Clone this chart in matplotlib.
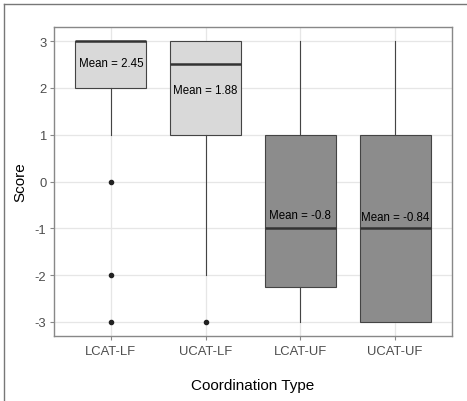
import matplotlib
matplotlib.use("Agg")
import matplotlib.pyplot as plt
from matplotlib.lines import Line2D

plt.rcParams['font.family'] = ['Liberation Sans', 'DejaVu Sans']
plt.rcParams['axes.unicode_minus'] = False

categories = ["LCAT-LF", "UCAT-LF", "LCAT-UF", "UCAT-UF"]
q1 = [2, 1, -2.25, -3]
med = [3, 2.5, -1, -1]
q3 = [3, 3, 1, 1]
whislo = [1, -2, -3, -3]
whishi = [3, 3, 3, 3]
fliers = [[0, -2, -3], [-3], [], []]
means = [2.45, 1.88, -0.8, -0.84]
fills = ["#d9d9d9", "#d9d9d9", "#8c8c8c", "#8c8c8c"]

stats = []
for i, c in enumerate(categories):
    stats.append(dict(label=c, q1=q1[i], med=med[i], q3=q3[i],
                      whislo=whislo[i], whishi=whishi[i], fliers=fliers[i]))

fig = plt.figure(figsize=(4.67, 4.02), dpi=100)
ax = fig.add_axes([54/467, 1-337/402, 398/467, 309/402])

pos = list(range(1, len(categories)+1))
ax.set_axisbelow(True)
ax.grid(True, color="#e6e6e6", linewidth=0.9)

bp = ax.bxp(stats, positions=pos, widths=0.75, patch_artist=True,
            showcaps=False,
            boxprops=dict(edgecolor="#444444", linewidth=0.8),
            whiskerprops=dict(color="#444444", linewidth=0.8),
            medianprops=dict(color="#333333", linewidth=1.8),
            flierprops=dict(marker="o", markersize=3, markerfacecolor="#222222",
                            markeredgecolor="#222222"))
for patch, f in zip(bp["boxes"], fills):
    patch.set_facecolor(f)

for p, m in zip(pos, means):
    ax.text(p, m + 0.08, "Mean = %g" % m, ha="center", va="center",
            fontsize=8.3, color="black", zorder=5)

ax.set_xlim(0.4, 4.6)
ax.set_ylim(-3.3, 3.3)
ax.set_yticks([-3, -2, -1, 0, 1, 2, 3])
ax.set_xticks(pos)
ax.set_xticklabels(categories)
ax.tick_params(colors="#888888", labelcolor="#4d4d4d", labelsize=9.4, length=3, width=0.8)
ax.tick_params(axis="y", pad=2.5)
for s in ax.spines.values():
    s.set_color("#888888")
    s.set_linewidth(1)

ax.set_xlabel("Coordination Type", fontsize=11, labelpad=15)
ax.set_ylabel("Score", fontsize=11)
ax.yaxis.set_label_coords(-0.067, 0.5)

# outer frame lines (left and top)
fig.add_artist(Line2D([4/467, 4/467], [0, 1-5/402], transform=fig.transFigure,
                      color="#777777", linewidth=1))
fig.add_artist(Line2D([4/467, 1], [1-5/402, 1-5/402], transform=fig.transFigure,
                      color="#777777", linewidth=1))

fig.savefig("out.png", dpi=100)
